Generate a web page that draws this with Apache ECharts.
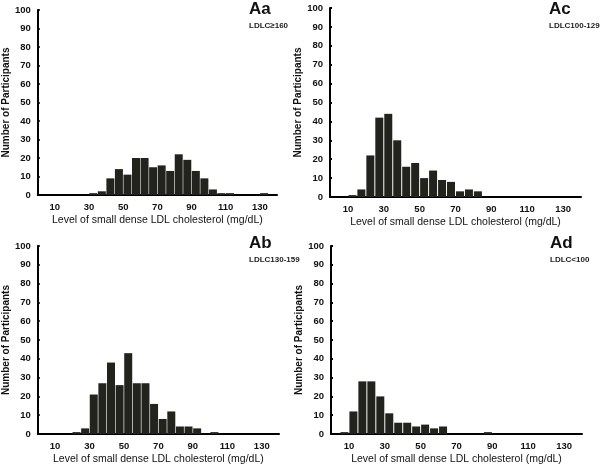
<!DOCTYPE html>
<html>
<head>
<meta charset="utf-8">
<script src="https://cdn.jsdelivr.net/npm/echarts@6/dist/echarts.min.js"></script>
<style>html,body{margin:0;padding:0;background:#fff}#c{width:600px;height:470px}</style>
</head>
<body>
<div id="c"></div>
<script>
// Bin lower edges (mg/dL), bin width 5
var binLow = [0,5,10,15,20,25,30,35,40,45,50,55,60,65,70,75,80,85,90,95,100,105,110,115,120,125,130,135];
// Counts per bin
var countsAa = [0,0,0,0,0,0,1,2,9,14,11,20,20,15,16,13,22,19,13,9,3,1,1,0,0,0,1,0];
var countsAc = [0,0,1,4,22,42,44,30,16,18,10,14,9,8,3,4,3,0,0,0,0,0,0,0,0,0,0,0];
var countsAb = [0,0,0,0,1,3,21,27,38,26,43,27,27,16,8,12,4,4,3,0,1,0,0,0,0,0,0,0];
var countsAd = [0,1,12,28,28,20,11,6,6,4,5,3,4,0,0,0,0,1,0,0,0,0,0,0,0,0,0,0];
var xTickLabels = [10,30,50,70,90,110,130];
var panelTitles = ['Aa','Ac','Ab','Ad'];
var panelSubtitles = ['LDLC\u2265160','LDLC100-129','LDLC130-159','LDLC<100'];
var xTitle = 'Level of small dense LDL cholesterol (mg/dL)';
var yTitle = 'Number of Participants';
var binWidth = 5;

var allCounts = [countsAa, countsAc, countsAb, countsAd];
var grids = [
  {left: 30, top: 10, width: 247, height: 185},
  {left: 330, top: 8, width: 251, height: 189},
  {left: 30, top: 246, width: 249, height: 188},
  {left: 331, top: 246, width: 251, height: 188}
];
var ff = "'Liberation Sans', Arial, sans-serif";
var xAxes = [], yAxes = [], series = [], titles = [];
grids.forEach(function (g, i) {
  xAxes.push({
    type: 'value', gridIndex: i, min: 0, max: 140, interval: 10,
    axisLine: {show: true, onZero: false, lineStyle: {color: '#000', width: 2}},
    axisTick: {show: false},
    splitLine: {show: false},
    axisLabel: {
      margin: 7, fontSize: 9.5, fontWeight: 'bold', color: '#111', fontFamily: ff,
      formatter: function (v) { return xTickLabels.indexOf(v) >= 0 ? String(v) : ''; }
    },
    name: xTitle, nameLocation: 'middle', nameGap: 20,
    nameTextStyle: {fontSize: 10.5, color: '#111', fontFamily: ff}
  });
  yAxes.push({
    type: 'value', gridIndex: i, min: 0, max: 100, interval: 10,
    axisLine: {show: true, lineStyle: {color: '#000', width: 2}},
    axisTick: {show: true, inside: true, length: 2, lineStyle: {color: '#000', width: 2}},
    splitLine: {show: false},
    axisLabel: {margin: 7, fontSize: 9.5, fontWeight: 'bold', color: '#111', fontFamily: ff},
    name: yTitle, nameLocation: 'middle', nameGap: 20,
    nameTextStyle: {fontSize: 10, fontWeight: 'bold', color: '#111', fontFamily: ff}
  });
  series.push({
    type: 'bar', xAxisIndex: i, yAxisIndex: i, barWidth: 8,
    itemStyle: {color: '#23231d'},
    data: binLow.map(function (b, k) { return [b + binWidth / 2, allCounts[i][k]]; })
  });
  titles.push({
    text: panelTitles[i], subtext: panelSubtitles[i],
    left: g.left + 219, top: (i < 2 ? 1 : 235), itemGap: 4, padding: 0,
    textStyle: {fontSize: 17, fontWeight: 'bold', color: '#111', fontFamily: ff},
    subtextStyle: {fontSize: 8, fontWeight: 'bold', color: '#222', fontFamily: ff}
  });
});

var chart = echarts.init(document.getElementById('c'), null, {renderer: 'canvas'});
chart.setOption({
  animation: false,
  backgroundColor: '#fff',
  title: titles,
  grid: grids,
  xAxis: xAxes,
  yAxis: yAxes,
  series: series
});
</script>
</body>
</html>
